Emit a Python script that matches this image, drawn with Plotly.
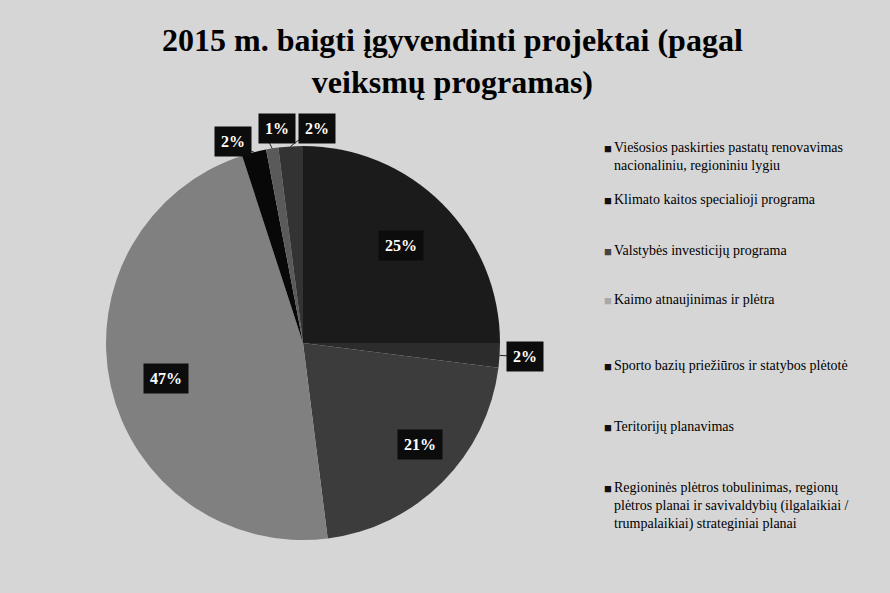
import math
import plotly.graph_objects as go

# data
programs = [
    "Viešosios paskirties pastatų renovavimas<br>nacionaliniu, regioniniu lygiu",
    "Klimato kaitos specialioji programa",
    "Valstybės investicijų programa",
    "Kaimo atnaujinimas ir plėtra",
    "Sporto bazių priežiūros ir statybos plėtotė",
    "Teritorijų planavimas",
    "Regioninės plėtros tobulinimas, regionų<br>plėtros planai ir savivaldybių (ilgalaikiai /<br>trumpalaikiai) strateginiai planai",
]
shares = [25, 2, 21, 47, 2, 1, 2]

# styling
slice_colors = ["#1b1b1b", "#2c2c2c", "#3c3c3c", "#808080", "#080808", "#5a5a5a", "#333333"]
legend_marker_colors = ["#111111", "#111111", "#444444", "#a8a8a8", "#111111", "#111111", "#111111"]
label_r = [0.70, 1.13, 0.84, 0.83, 1.19, 1.19, 1.17]
label_shift = [0, 0, 0, 0, -8, -2, 7]
legend_y = [148, 200, 251, 300, 366, 427, 488]

W, H = 890, 593
cx, cy, R = 303, 343, 197
serif = "Liberation Serif, Times New Roman, serif"

fig = go.Figure(go.Pie(
    labels=programs,
    values=shares,
    sort=False,
    direction="clockwise",
    rotation=0,
    textinfo="none",
    hoverinfo="label+percent",
    marker=dict(colors=slice_colors, line=dict(width=0)),
    domain=dict(x=[(cx - R) / W, (cx + R) / W], y=[(H - cy - R) / H, (H - cy + R) / H]),
    showlegend=False,
))

annotations = []
shapes = []
total = sum(shares)
start = 0.0
for i, v in enumerate(shares):
    mid = start + v / total * 360 / 2
    start += v / total * 360
    ang = math.radians(mid + label_shift[i])
    px = cx + R * label_r[i] * math.sin(ang)
    py = cy - R * label_r[i] * math.cos(ang)
    annotations.append(dict(
        x=px / W, y=1 - py / H, xref="paper", yref="paper",
        text="<b>%d%%</b>" % round(v / total * 100), showarrow=False,
        font=dict(family=serif, size=16, color="white"),
        bgcolor="#0c0c0c", borderpad=6,
    ))
    if label_r[i] > 1:
        a0 = math.radians(mid)
        x0, y0 = cx + R * math.sin(a0), cy - R * math.cos(a0)
        x1 = cx + R * (label_r[i] - 0.07) * math.sin(ang)
        y1 = cy - R * (label_r[i] - 0.07) * math.cos(ang)
        shapes.append(dict(type="line", xref="paper", yref="paper",
                           x0=x0 / W, y0=1 - y0 / H, x1=x1 / W, y1=1 - y1 / H,
                           line=dict(color="#222", width=1)))

# legend drawn as text
for name, col, ly in zip(programs, legend_marker_colors, legend_y):
    annotations.append(dict(
        x=602 / W, y=1 - (ly - 9) / H, xref="paper", yref="paper",
        xanchor="left", yanchor="top", text="■", showarrow=False,
        font=dict(family=serif, size=13, color=col),
    ))
    annotations.append(dict(
        x=612 / W, y=1 - (ly - 10) / H, xref="paper", yref="paper",
        xanchor="left", yanchor="top", align="left", text=name, showarrow=False,
        font=dict(family=serif, size=14, color="#000"),
    ))

# title
annotations.append(dict(
    x=452 / W, y=1 - 20 / H, xref="paper", yref="paper",
    xanchor="center", yanchor="top", align="center", showarrow=False,
    text="<b>2015 m. baigti įgyvendinti projektai (pagal<br>veiksmų programas)</b>",
    font=dict(family=serif, size=32, color="#000"),
))

fig.update_layout(
    width=W, height=H,
    margin=dict(l=0, r=0, t=0, b=0),
    paper_bgcolor="#d6d6d6",
    plot_bgcolor="#d6d6d6",
    annotations=annotations,
    shapes=shapes,
)

fig.write_html("out.html", config={"displayModeBar": False},
               post_script="document.body.style.margin='0';")
